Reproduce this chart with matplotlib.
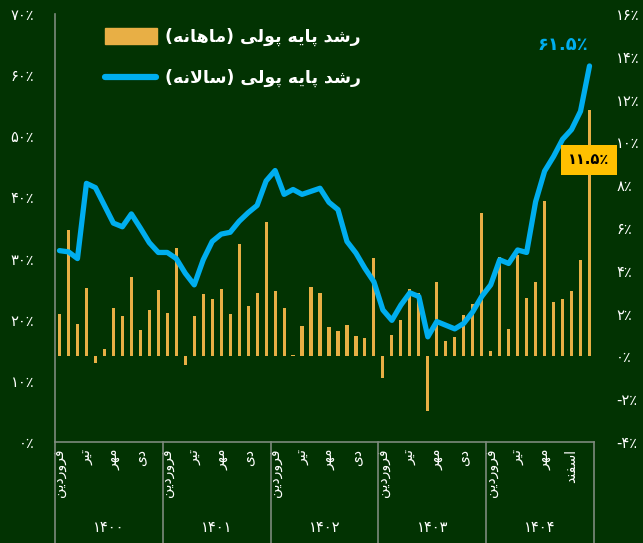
import numpy as np
import matplotlib
matplotlib.use("Agg")
import matplotlib.pyplot as plt
from matplotlib.patches import Rectangle
from matplotlib.lines import Line2D

# --- data ---
years = ["1400", "1401", "1402", "1403", "1404"]
month_labels = ["فروردین", "تیر", "مهر", "دی"]
last_labels = ["فروردین", "تیر", "مهر", "اسفند"]

# annual base money growth (%), left axis, Farvardin 1400 .. Esfand 1404
annual = [31.3, 31.1, 30.0, 42.3, 41.6, 38.7, 35.8, 35.2, 37.3, 35.0, 32.6, 31.0,
          31.0, 30.0, 27.6, 25.7, 29.8, 32.8, 34.0, 34.3, 36.1, 37.5, 38.7, 42.7,
          44.4, 40.5, 41.3, 40.5, 41.0, 41.5, 39.2, 38.0, 32.8, 30.9, 28.4, 26.2,
          21.6, 19.9, 22.4, 24.4, 23.8, 17.2, 19.7, 19.1, 18.5, 19.4, 21.3, 23.8,
          25.7, 29.8, 29.2, 31.4, 31.0, 39.3, 44.3, 46.7, 49.5, 51.1, 54.1, 61.5]

# monthly base money growth (%), right axis
monthly = [1.96, 5.9, 1.53, 3.2, -0.3, 0.33, 2.27, 1.88, 3.69, 1.22, 2.16, 3.1,
           2.03, 5.06, -0.4, 1.9, 2.9, 2.66, 3.13, 1.97, 5.24, 2.36, 2.94, 6.28,
           3.07, 2.27, 0.05, 1.41, 3.25, 2.97, 1.38, 1.17, 1.46, 0.94, 0.88, 4.59,
           -1.02, 1.02, 1.69, 3.15, 2.94, -2.57, 3.49, 0.7, 0.91, 1.92, 2.47, 6.7,
           0.25, 4.66, 1.27, 4.74, 2.71, 3.49, 7.24, 2.55, 2.68, 3.05, 4.5, 11.5]

left_ticks = [0, 10, 20, 30, 40, 50, 60, 70]
right_ticks = [-4, -2, 0, 2, 4, 6, 8, 10, 12, 14, 16]

bg = "#023302"
bar_color = "#E8AF45"
line_color = "#00AEEF"
grey = "#7c8a7c"

# --- little persian helpers (matplotlib does no shaping / rtl) ---
FORMS = {
    'ا': ('\uFE8D', '\uFE8E'),
    'د': ('\uFEA9', '\uFEAA'),
    'ر': ('\uFEAD', '\uFEAE'),
    'و': ('\uFEED', '\uFEEE'),
    'ش': ('\uFEB5', '\uFEB6', '\uFEB7', '\uFEB8'),
    'س': ('\uFEB1', '\uFEB2', '\uFEB3', '\uFEB4'),
    'پ': ('\uFB56', '\uFB57', '\uFB58', '\uFB59'),
    'ی': ('\uFBFC', '\uFBFD', '\uFBFE', '\uFBFF'),
    'ه': ('\uFEE9', '\uFEEA', '\uFEEB', '\uFEEC'),
    'ل': ('\uFEDD', '\uFEDE', '\uFEDF', '\uFEE0'),
    'م': ('\uFEE1', '\uFEE2', '\uFEE3', '\uFEE4'),
    'ن': ('\uFEE5', '\uFEE6', '\uFEE7', '\uFEE8'),
    'ف': ('\uFED1', '\uFED2', '\uFED3', '\uFED4'),
    'ت': ('\uFE95', '\uFE96', '\uFE97', '\uFE98'),
}


def fa(text):
    # join letters, then reverse for left-to-right drawing
    chars = list(text)
    out = []
    i = 0
    prev_joins = False
    while i < len(chars):
        c = chars[i]
        if c not in FORMS:
            out.append(c)
            prev_joins = False
            i += 1
            continue
        if c == 'ل' and i + 1 < len(chars) and chars[i + 1] == 'ا':
            out.append('\uFEFC' if prev_joins else '\uFEFB')
            prev_joins = False
            i += 2
            continue
        f = FORMS[c]
        nxt = chars[i + 1] if i + 1 < len(chars) else None
        next_joins = len(f) == 4 and nxt in FORMS
        if prev_joins and next_joins:
            out.append(f[3])
        elif prev_joins:
            out.append(f[1])
        elif next_joins:
            out.append(f[2])
        else:
            out.append(f[0])
        prev_joins = len(f) == 4
        i += 1
    s = ''.join(reversed(out))
    return s.translate(str.maketrans("()", ")("))


def fa_num(v):
    s = str(v)
    return s.translate(str.maketrans("0123456789", "۰۱۲۳۴۵۶۷۸۹"))


def pct(v):
    return fa_num(v) + "٪"


plt.rcParams['font.family'] = ['DejaVu Sans']

fig = plt.figure(figsize=(6.43, 5.43), dpi=100, facecolor=bg)
W, H = 643, 543
axL = fig.add_axes([55 / W, 1 - 442 / H, (594 - 55) / W, (442 - 14) / H])
axR = axL.twinx()
axL.set_zorder(2)
axR.set_zorder(1)
axL.patch.set_visible(False)
axR.patch.set_facecolor(bg)

x = np.arange(len(annual))
axR.bar(x, monthly, width=0.35, color=bar_color)
axL.plot(x, annual, color=line_color, lw=3.8, solid_joinstyle='round',
         solid_capstyle='round')

axL.set_xlim(-0.5, len(annual) - 0.5)
axL.set_ylim(0, 70)
axR.set_ylim(-4, 16)

axL.set_yticks(left_ticks)
axL.set_yticklabels([pct(t) for t in left_ticks])
axR.set_yticks(right_ticks)
axR.set_yticklabels([pct(t) if t >= 0 else "-" + pct(-t) for t in right_ticks])
for a in (axL, axR):
    a.tick_params(axis='y', length=0, labelcolor='white', labelsize=10.5)
    for s in a.spines.values():
        s.set_visible(False)
axL.tick_params(axis='y', pad=15)
axR.tick_params(axis='y', pad=16)
axL.spines['left'].set_visible(True)
axL.spines['left'].set_color(grey)
axL.spines['bottom'].set_visible(True)
axL.spines['bottom'].set_color(grey)
axL.spines['left'].set_linewidth(1.2)
axL.spines['bottom'].set_linewidth(1.2)

# month ticks
ticks = []
labels = []
for yi in range(len(years)):
    labs = last_labels if yi == len(years) - 1 else month_labels
    for k, lab in enumerate(labs):
        ticks.append(yi * 12 + k * 3)
        labels.append(fa(lab))
axL.set_xticks(ticks)
axL.set_xticklabels(labels, rotation=90, color='white', fontsize=10)
axL.tick_params(axis='x', length=0, pad=5)

# year labels and group separators
trans = axL.get_xaxis_transform()
for yi, yr in enumerate(years):
    axL.text(yi * 12 + 5.5, -0.2, fa_num(yr), transform=trans, ha='center',
             va='center', color='white', fontsize=10.5)
for b in range(len(years) + 1):
    axL.plot([b * 12 - 0.5, b * 12 - 0.5], [0, -0.25], transform=trans,
             color=grey, lw=1.2, clip_on=False)

# legend drawn by hand
fig.patches.append(Rectangle((105 / W, 1 - 44 / H), 52 / W, 16 / H,
                             transform=fig.transFigure, color=bar_color))
fig.lines.append(Line2D([105 / W, 156 / W], [1 - 77 / H, 1 - 77 / H],
                        transform=fig.transFigure, color=line_color, lw=4.5,
                        solid_capstyle='round'))
fig.text(165 / W, 1 - 37 / H, fa("رشد پایه پولی (ماهانه)"), color='white',
         fontsize=12.5, fontweight='bold', ha='left', va='center')
fig.text(165 / W, 1 - 78 / H, fa("رشد پایه پولی (سالانه)"), color='white',
         fontsize=12.5, fontweight='bold', ha='left', va='center')

# value callouts
fig.text(563 / W, 1 - 45 / H, pct(annual[-1]), color=line_color, fontsize=13,
         fontweight='bold', ha='center', va='center')
fig.text(589 / W, 1 - 160 / H, pct(monthly[-1]), color='black', fontsize=10.5,
         fontweight='bold', ha='center', va='center',
         bbox=dict(boxstyle='square,pad=0.5', fc='#FFC000', ec='none'))

fig.savefig("out.png", dpi=100, facecolor=bg)
